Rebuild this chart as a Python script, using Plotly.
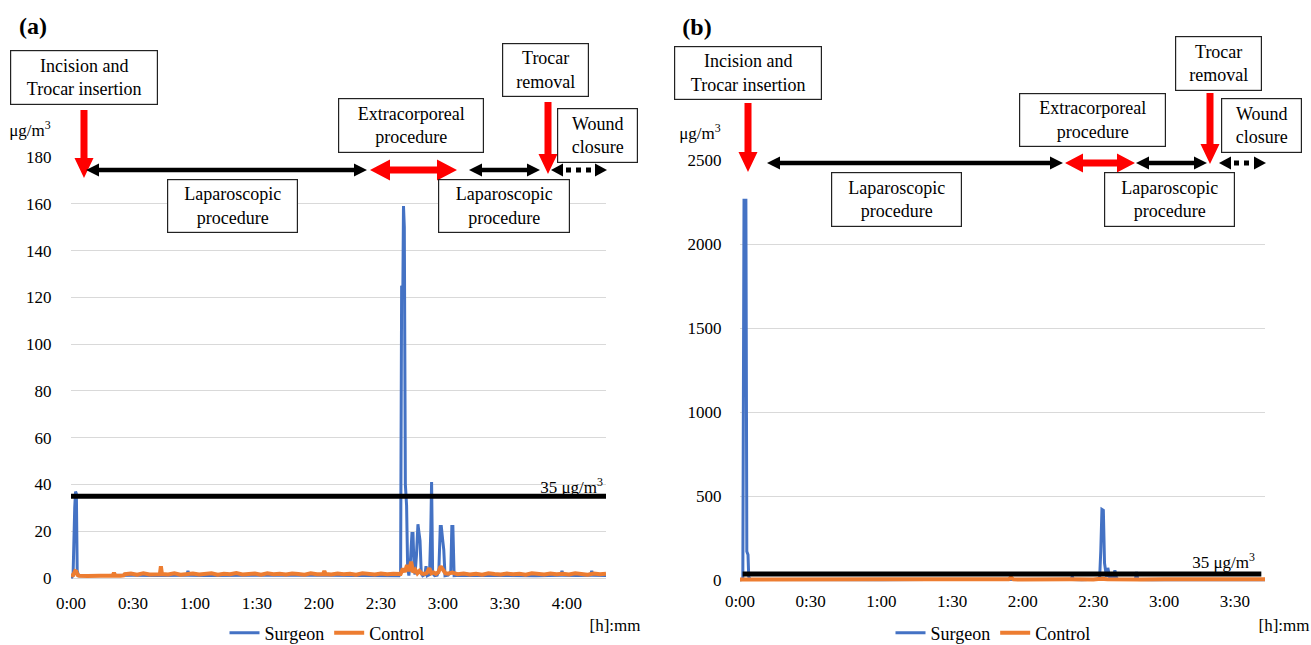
import plotly.graph_objects as go

W, H = 1311, 645
FONT = "Liberation Serif"

# ---------------- data ----------------
TIME_TICKS_A = [0, 30, 60, 90, 120, 150, 180, 210, 240]
TIME_LABELS_A = ["0:00", "0:30", "1:00", "1:30", "2:00", "2:30", "3:00", "3:30", "4:00"]
TIME_TICKS_B = [0, 30, 60, 90, 120, 150, 180, 210]
TIME_LABELS_B = ["0:00", "0:30", "1:00", "1:30", "2:00", "2:30", "3:00", "3:30"]
Y_TICKS_A = [0, 20, 40, 60, 80, 100, 120, 140, 160, 180]
Y_TICKS_B = [0, 500, 1000, 1500, 2000, 2500]
X_END_A = 258.9   # minutes shown on panel (a)
X_END_B = 222.8   # minutes shown on panel (b)
Y_RANGE_A = [-1.0, 180]
Y_RANGE_B = [-15, 2500]
THRESHOLD = 35

# panel (a) surgeon: time [min], PM2.5 [ug/m3]
a_surg_t = [0, 1.0, 1.8, 2.2, 2.6, 3.0, 3.6, 10, 20, 30,
            40, 50, 56.0, 56.6, 57.2, 65, 80, 95, 110, 125,
            140, 152, 158.8, 159.5, 160.0, 160.6, 160.9, 161.3, 161.8, 162.4,
            162.9, 163.5, 164.3, 165.0, 165.5, 166.0, 166.5, 167.2, 167.9, 168.3,
            168.9, 169.5, 170.2, 171.3, 171.8, 172.4, 173.5, 174.1, 174.5, 175.0,
            176.0, 177.2, 178.0, 178.7, 179.2, 179.9, 180.4, 181.0, 182.5, 183.8,
            184.3, 184.8, 185.4, 186.5, 195, 210, 225, 237.0, 237.6, 238.2,
            245, 251.4, 252.0, 252.6, 258.9]
a_surg_v = [0, 1.0, 30, 37, 36, 3.0, 1.0, 1.1, 1.0, 1.2,
            1.1, 1.2, 1.2, 3.0, 1.2, 1.1, 1.2, 1.0, 1.1, 1.2,
            1.1, 1.2, 1.0, 2.0, 125, 124, 159, 150, 40, 31,
            5.0, 1.0, 8.0, 19, 19, 5.0, 1.5, 10, 23, 20,
            16, 2.0, 1.0, 1.5, 5.0, 1.0, 1.5, 20, 41, 2.0,
            1.0, 1.2, 3.0, 22, 22, 16, 12, 1.0, 1.2, 3.0,
            22, 22, 1.0, 1.1, 1.2, 1.1, 1.0, 1.2, 3.0, 1.2,
            1.1, 1.2, 3.0, 1.2, 1.1]

# panel (a) control
a_ctrl_t = [0, 1, 2, 2.6, 3.2, 4, 8, 12, 16, 20.2,
            20.8, 21.4, 24, 25.5, 26, 29, 32, 35, 38, 41,
            43.0, 43.5, 44.0, 47, 50, 53, 56, 59, 62, 65,
            68, 71, 74, 77, 80, 83, 86, 89, 92, 95,
            98, 101, 104, 107, 110, 113, 116, 119, 122, 122.6,
            123.2, 126, 129, 132, 135, 138, 141, 144, 147, 150,
            153, 156, 158, 159.5, 160.6, 161.6, 162.6, 163.6, 164.6, 165.6,
            166.6, 167.6, 168.6, 169.8, 171.0, 172.2, 173.4, 174.4, 175.4, 176.6,
            177.8, 178.9, 180.0, 181.2, 182.5, 184.5, 187, 190, 193, 196,
            199, 202, 205, 208, 211, 214, 217, 220, 223, 226,
            229, 232, 235, 238, 241, 244, 247, 250, 253, 256,
            258.9]
a_ctrl_v = [1.0, 1.2, 3.0, 2.8, 1.3, 1.0, 0.9, 1.0, 1.1, 1.1,
            2.2, 1.0, 1.0, 1.1, 1.6, 1.9, 1.4, 2.0, 1.5, 1.8,
            1.6, 5.0, 1.7, 1.5, 2.0, 1.4, 1.8, 1.9, 1.5, 1.7,
            2.0, 1.4, 1.8, 1.6, 2.1, 1.5, 1.7, 1.9, 1.4, 2.0,
            1.6, 1.8, 1.5, 1.9, 1.7, 1.4, 2.0, 1.6, 1.7, 3.0,
            1.7, 1.5, 1.9, 1.6, 1.8, 1.4, 2.0, 1.7, 1.5, 1.9,
            1.6, 1.8, 1.5, 1.7, 4.0, 2.6, 5.5, 3.0, 7.0, 2.4,
            3.5, 2.0, 3.0, 1.9, 1.7, 2.2, 4.2, 2.0, 2.4, 1.8,
            2.5, 5.0, 3.6, 2.0, 1.8, 2.3, 1.6, 1.9, 1.5, 1.8,
            1.4, 2.0, 1.7, 1.5, 1.9, 1.6, 1.8, 1.4, 2.0, 1.7,
            1.5, 1.9, 1.6, 1.8, 1.5, 2.0, 1.7, 1.4, 1.9, 1.6,
            1.8]

# panel (b) surgeon
b_surg_t = [0, 1.2, 1.7, 2.5, 2.9, 3.4, 3.7, 4.2, 5, 20,
            40, 60, 80, 100, 120, 135, 140.5, 141.0, 141.5, 145,
            152.6, 153.1, 153.6, 154.2, 154.7, 155.5, 156.1, 156.8, 158.4, 159.1,
            159.8, 160.5, 165, 167.8, 168.3, 168.8, 175, 190, 205, 222.8]
b_surg_v = [0, 5, 2260, 2260, 170, 150, 20, 5, 3, 2,
            3, 2, 3, 2, 3, 2, 3, 20, 3, 2,
            5, 170, 420, 415, 100, 20, 72, 20, 10, 58,
            10, 3, 2, 3, 48, 3, 2, 3, 2, 2]

# panel (b) control
b_ctrl_t = [0, 10, 20, 30, 40, 50, 60, 70, 80, 90,
            100, 110, 114, 115, 116, 120, 130, 140, 150, 153,
            156, 160, 170, 180, 190, 200, 210, 222.8]
b_ctrl_v = [3, 4, 3, 5, 4, 3, 5, 4, 3, 4,
            5, 3, 4, 15, 4, 3, 5, 4, 3, 8,
            5, 4, 3, 5, 4, 3, 5, 4]

BLUE = "#4472C4"
ORANGE = "#ED7D31"
GRID = "#D9D9D9"


def px(x):
    return x / W


def py(y):
    return 1 - y / H


fig = go.Figure()
fig.add_trace(go.Scatter(x=a_surg_t, y=a_surg_v, mode="lines", name="Surgeon",
                         line=dict(color=BLUE, width=3), xaxis="x", yaxis="y",
                         legend="legend"))
fig.add_trace(go.Scatter(x=a_ctrl_t, y=a_ctrl_v, mode="lines", name="Control",
                         line=dict(color=ORANGE, width=4), xaxis="x", yaxis="y",
                         legend="legend"))
fig.add_trace(go.Scatter(x=b_surg_t, y=b_surg_v, mode="lines", name="Surgeon",
                         line=dict(color=BLUE, width=3), xaxis="x2", yaxis="y2",
                         legend="legend2"))
fig.add_trace(go.Scatter(x=b_ctrl_t, y=b_ctrl_v, mode="lines", name="Control",
                         line=dict(color=ORANGE, width=4), xaxis="x2", yaxis="y2",
                         legend="legend2"))

tickfont = dict(family=FONT, size=17, color="black")

# zero level of panel (a) at y=578 px, 180 at 157 px; panel (b) 0 at 580 px, 2500 at 160 px
a_unit = (578 - 157) / 180.0
b_unit = (580 - 160) / 2500.0

xa = dict(range=[0, X_END_A], tickvals=TIME_TICKS_A, ticktext=TIME_LABELS_A,
          showgrid=False, zeroline=False, showline=False,
          ticks="outside", ticklen=7, tickcolor="rgba(0,0,0,0)", tickfont=tickfont,
          domain=[px(71), px(606)], anchor="y", fixedrange=True, automargin=False)
ya = dict(range=Y_RANGE_A, tickvals=Y_TICKS_A, showgrid=True, gridcolor=GRID, gridwidth=1,
          zeroline=False, showline=False, ticks="outside", ticklen=15,
          tickcolor="rgba(0,0,0,0)", tickfont=tickfont,
          domain=[py(578 - Y_RANGE_A[0] * a_unit), py(157)], anchor="x",
          fixedrange=True, automargin=False)
xb = dict(range=[0, X_END_B], tickvals=TIME_TICKS_B, ticktext=TIME_LABELS_B,
          showgrid=False, zeroline=False, showline=False,
          ticks="outside", ticklen=3, tickcolor="rgba(0,0,0,0)", tickfont=tickfont,
          domain=[px(740), px(1265)], anchor="y2", fixedrange=True, automargin=False)
yb = dict(range=Y_RANGE_B, tickvals=Y_TICKS_B, showgrid=True, gridcolor=GRID, gridwidth=1,
          zeroline=False, showline=False, ticks="outside", ticklen=14,
          tickcolor="rgba(0,0,0,0)", tickfont=tickfont,
          domain=[py(580 - Y_RANGE_B[0] * b_unit), py(160)], anchor="x2",
          fixedrange=True, automargin=False)

legfont = dict(family=FONT, size=18, color="black")
fig.update_layout(
    width=W, height=H, margin=dict(l=0, r=0, t=0, b=0, autoexpand=False),
    paper_bgcolor="white", plot_bgcolor="white",
    font=dict(family=FONT, size=17, color="black"),
    xaxis=xa, yaxis=ya, xaxis2=xb, yaxis2=yb,
    legend=dict(orientation="h", x=px(327), xanchor="center", y=py(633), yanchor="middle",
                font=legfont, bgcolor="rgba(0,0,0,0)", itemwidth=30, tracegroupgap=0),
    legend2=dict(orientation="h", x=px(993), xanchor="center", y=py(633), yanchor="middle",
                 font=legfont, bgcolor="rgba(0,0,0,0)", itemwidth=30, tracegroupgap=0),
    showlegend=True,
)

# threshold lines
fig.add_shape(type="line", xref="x domain", x0=0, x1=1, yref="y", y0=THRESHOLD, y1=THRESHOLD,
              line=dict(color="black", width=5), layer="above")
fig.add_shape(type="line", xref="x2 domain", x0=0.005, x1=0.993, yref="y2", y0=THRESHOLD,
              y1=THRESHOLD, line=dict(color="black", width=5), layer="above")


def poly(points, color):
    d = "M " + " L ".join(f"{px(x):.5f},{py(y):.5f}" for x, y in points) + " Z"
    fig.add_shape(type="path", xref="paper", yref="paper", path=d,
                  fillcolor=color, line=dict(width=0), layer="above")


def double_arrow(x1, x2, y, shaft, hl, hh, color, dotted=False):
    t = shaft / 2
    if not dotted:
        poly([(x1, y), (x1 + hl, y - hh), (x1 + hl, y - t), (x2 - hl, y - t),
              (x2 - hl, y - hh), (x2, y), (x2 - hl, y + hh), (x2 - hl, y + t),
              (x1 + hl, y + t), (x1 + hl, y + hh)], color)
    else:
        poly([(x1, y), (x1 + hl, y - hh), (x1 + hl, y + hh)], color)
        poly([(x2, y), (x2 - hl, y - hh), (x2 - hl, y + hh)], color)
        fig.add_shape(type="line", xref="paper", yref="paper",
                      x0=px(x1 + hl + 3), x1=px(x2 - hl - 1), y0=py(y), y1=py(y),
                      line=dict(color=color, width=shaft, dash="dot"), layer="above")


def down_arrow(x, y1, y2, shaft, hw, hl, color):
    t = shaft / 2
    poly([(x - t, y1), (x + t, y1), (x + t, y2 - hl), (x + hw, y2 - hl), (x, y2),
          (x - hw, y2 - hl), (x - t, y2 - hl)], color)


RED = "#FF0000"
# panel (a) arrows
down_arrow(84, 110, 178, 7, 9.5, 20, RED)
double_arrow(86, 367, 170, 4.5, 13, 6.5, "black")
double_arrow(370, 457, 170, 7, 20, 10.5, RED)
double_arrow(469, 540, 170, 4.5, 13, 6.5, "black")
down_arrow(548, 102, 174, 7, 9.5, 20, RED)
double_arrow(551, 607, 170, 5, 12, 6.5, "black", dotted=True)

# panel (b) arrows
down_arrow(748, 103, 172, 7, 9.5, 20, RED)
double_arrow(767, 1063, 163, 4.5, 13, 6.5, "black")
double_arrow(1065, 1135, 163, 7, 18, 9.5, RED)
double_arrow(1136, 1207, 163, 4.5, 13, 6.5, "black")
down_arrow(1210, 93, 164, 7, 9.5, 20, RED)
double_arrow(1219, 1266, 163, 5, 12, 6.5, "black", dotted=True)


def box(x0, y0, x1, y1, text):
    fig.add_annotation(xref="paper", yref="paper", x=px((x0 + x1) / 2), y=py((y0 + y1) / 2),
                       xanchor="center", yanchor="middle", text=text, showarrow=False,
                       width=x1 - x0 - 2, height=y1 - y0 - 2, align="center", valign="middle",
                       bordercolor="#222222", borderwidth=1.2, borderpad=0, bgcolor="white",
                       font=dict(family=FONT, size=18, color="black"))


def label(x, y, text, w, h, size=17, xanchor="center", bold=False, align="center"):
    fig.add_annotation(xref="paper", yref="paper", x=px(x), y=py(y), xanchor=xanchor,
                       yanchor="middle", text=(f"<b>{text}</b>" if bold else text),
                       width=w, height=h, align=align, valign="middle",
                       bgcolor="rgba(255,255,255,0)", borderpad=0,
                       showarrow=False, font=dict(family=FONT, size=size, color="black"))


# panel (a) boxes
box(10, 50, 158, 105, "Incision and<br>Trocar insertion")
box(167, 179, 298, 233, "Laparoscopic<br>procedure")
box(338, 98, 484, 153, "Extracorporeal<br>procedure")
box(502, 43, 589, 97, "Trocar<br>removal")
box(557, 108, 638, 163, "Wound<br>closure")
box(438, 179, 570, 233, "Laparoscopic<br>procedure")

# panel (b) boxes
box(674, 46, 822, 100, "Incision and<br>Trocar insertion")
box(831, 172, 962, 227, "Laparoscopic<br>procedure")
box(1019, 93, 1166, 147, "Extracorporeal<br>procedure")
box(1175, 36, 1262, 91, "Trocar<br>removal")
box(1221, 98, 1302, 153, "Wound<br>closure")
box(1104, 172, 1235, 227, "Laparoscopic<br>procedure")

# labels
label(33, 26, "(a)", 36, 28, size=24, bold=True)
label(697, 27, "(b)", 36, 28, size=24, bold=True)
label(30, 129, "μg/m<sup>3</sup>", 48, 24)
label(700, 132, "μg/m<sup>3</sup>", 48, 24)
label(604, 486, "35 μg/m<sup>3</sup>", 72, 24, xanchor="right", align="right")
label(1256, 561, "35 μg/m<sup>3</sup>", 72, 24, xanchor="right", align="right")
label(615, 625, "[h]:mm", 58, 22)
label(1284, 625, "[h]:mm", 58, 22)

fig.write_html("out.html")
